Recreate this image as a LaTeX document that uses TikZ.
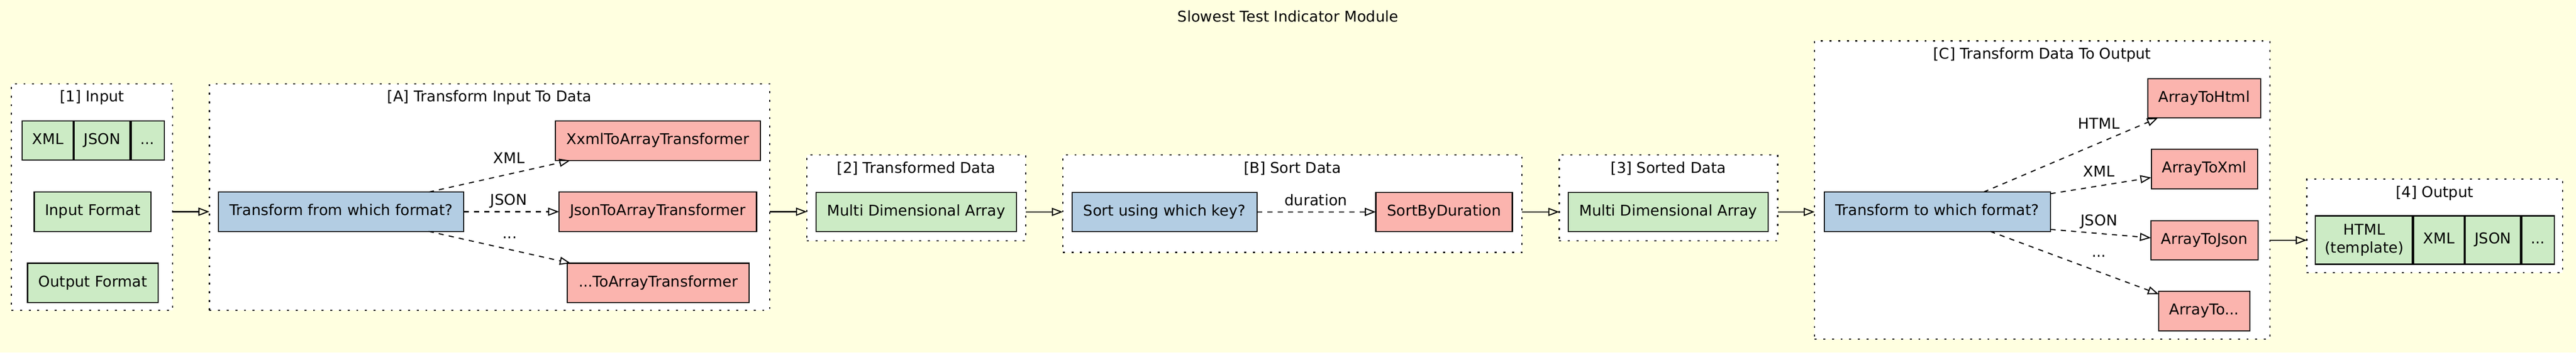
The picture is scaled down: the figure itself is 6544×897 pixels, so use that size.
\documentclass[tikz,border=0pt]{standalone}
\usepackage{fontspec}
\setmainfont{DejaVu Sans}
\usetikzlibrary{arrows.meta}
\definecolor{bgyellow}{HTML}{FFFFE0}
\definecolor{pgreen}{HTML}{CCEBC5}
\definecolor{pblue}{HTML}{B3CDE3}
\definecolor{pred}{HTML}{FBB4AE}

\begin{document}
\begin{tikzpicture}[x=0.36pt, y=-0.36pt, font=\fontsize{13.6}{16.5}\selectfont, group/.style={draw, fill=white, line width=1pt, dash pattern=on 1.8pt off 6.1pt, inner sep=0pt, outer sep=0pt}, box/.style={rectangle, draw, line width=1pt, minimum height=36pt, text height=10pt, text depth=3pt, inner sep=2pt, outer sep=0pt}, data/.style={box, fill=pgreen}, ask/.style={box, fill=pblue}, impl/.style={box, fill=pred}, sep/.style={line width=2.2pt}, n/.style={-{Triangle[open, length=10pt, width=7.4pt]}, line width=1pt}, d/.style={n, dash pattern=on 4.7pt off 4.7pt}]
            % background
            \fill[bgyellow] (0,0) rectangle (6544,897);
            \useasboundingbox (0,0) rectangle (6544,897);
            \node (title) at (3272,42) {Slowest Test Indicator Module};
            % clusters
            \node[group, minimum width=147.6pt, minimum height=207.4pt] (g1) at (234,501) {};
            \node[group, minimum width=512.3pt, minimum height=207.4pt] (gA) at (1243.5,501) {};
            \node[group, minimum width=200.2pt, minimum height=78.5pt] (g2) at (2328,503) {};
            \node[group, minimum width=419.8pt, minimum height=89.3pt] (gB) at (3283,518) {};
            \node[group, minimum width=199.8pt, minimum height=78.5pt] (g3) at (4238.5,503) {};
            \node[group, minimum width=416.2pt, minimum height=273.2pt] (gC) at (5188,483.5) {};
            \node[group, minimum width=234pt, minimum height=85.7pt] (g4) at (6185,575) {};
            \node (t1) at (234,248) {[1] Input};
            \node (tA) at (1243.5,248) {[A] Transform Input To Data};
            \node (t2) at (2328,428) {[2] Transformed Data};
            \node (tB) at (3283,428) {[B] Sort Data};
            \node (t3) at (4238.5,428) {[3] Sorted Data};
            \node (tC) at (5188,140) {[C] Transform Data To Output};
            \node (t4) at (6185,491) {[4] Output};
            % nodes
            \node[data, minimum width=47.2pt] (fXml) at (121.5,357.5) {XML};
            \node[data, minimum width=52.2pt] (fJson) at (259.5,357.5) {JSON};
            \node[data, minimum width=30.6pt] (fMore) at (374.5,357.5) {...};
            \node[data, minimum width=106.9pt] (inFmt) at (235.5,538.5) {Input Format};
            \node[data, minimum width=119.5pt] (outFmt) at (236,719.5) {Output Format};
            \node[ask, minimum width=224.3pt] (fromFmt) at (866.5,538.5) {Transform from which format?};
            \node[impl, minimum width=187.6pt] (xmlTr) at (1671.5,358) {XxmlToArrayTransformer};
            \node[impl, minimum width=180.7pt] (jsonTr) at (1671,538.5) {JsonToArrayTransformer};
            \node[impl, minimum width=166.3pt] (moreTr) at (1672,719.5) {...ToArrayTransformer};
            \node[data, minimum width=183.2pt] (mda2) at (2327.5,539) {Multi Dimensional Array};
            \node[ask, minimum width=169.2pt] (sortKey) at (2958,539) {Sort using which key?};
            \node[impl, minimum width=124.9pt] (sortDur) at (3668.5,539) {SortByDuration};
            \node[data, minimum width=182.9pt] (mda3) at (4238,539) {Multi Dimensional Array};
            \node[ask, minimum width=207pt] (toFmt) at (4921.5,538.5) {Transform to which format?};
            \node[impl, minimum width=103.3pt] (toHtml) at (5599.5,250) {ArrayToHtml};
            \node[impl, minimum width=97.2pt] (toXml) at (5600,430) {ArrayToXml};
            \node[impl, minimum width=97.9pt] (toJson) at (5600,611) {ArrayToJson};
            \node[impl, minimum width=83.2pt] (toMore) at (5599.5,791) {ArrayTo...};
            \node[data, minimum width=89.3pt, minimum height=44.3pt, text height=26.5pt, align=center] (oHtml) at (6006,610.5) {HTML\\(template)};
            \node[data, minimum width=47.2pt, minimum height=44.3pt] (oXml) at (6195.5,610.5) {XML};
            \node[data, minimum width=51.8pt, minimum height=44.3pt] (oJson) at (6333,610.5) {JSON};
            \node[data, minimum width=30.2pt, minimum height=44.3pt] (oMore) at (6447,610.5) {...};
            % record separators
            \draw[sep] (fXml.north east) -- (fXml.south east);
            \draw[sep] (fJson.north east) -- (fJson.south east);
            \draw[sep] (oHtml.north east) -- (oHtml.south east);
            \draw[sep] (oXml.north east) -- (oXml.south east);
            \draw[sep] (oJson.north east) -- (oJson.south east);
            % edges
            \draw[n] (inFmt -| g1.east) -- (inFmt -| gA.west);
            \draw[d] (fromFmt) -- (xmlTr);
            \draw[d] (fromFmt) -- (jsonTr);
            \draw[d] (fromFmt) -- (moreTr);
            \draw[n] (jsonTr -| gA.east) -- (jsonTr -| g2.west);
            \draw[n] (mda2 -| g2.east) -- (mda2 -| gB.west);
            \draw[d] (sortKey) -- (sortDur);
            \draw[n] (sortDur -| gB.east) -- (sortDur -| g3.west);
            \draw[n] (mda3 -| g3.east) -- (mda3 -| gC.west);
            \draw[d] (toFmt) -- (toHtml);
            \draw[d] (toFmt) -- (toXml);
            \draw[d] ([yshift=1.8pt]toFmt.south east) -- ([yshift=2.2pt]toJson.west);
            \draw[d] (toFmt) -- (toMore);
            \draw[n] (toJson -| gC.east) -- (toJson -| g4.west);
            % edge labels
            \node (lXmlA) at (1293,402) {XML};
            \node (lJsonA) at (1292,511) {JSON};
            \node (lMoreA) at (1295,604) {...};
            \node (lDur) at (3343,509) {duration};
            \node (lHtmlC) at (5332,314) {HTML};
            \node (lXmlC) at (5332,436) {XML};
            \node (lJsonC) at (5332,564) {JSON};
            \node (lMoreC) at (5332,651) {...};
        \end{tikzpicture}
\end{document}
